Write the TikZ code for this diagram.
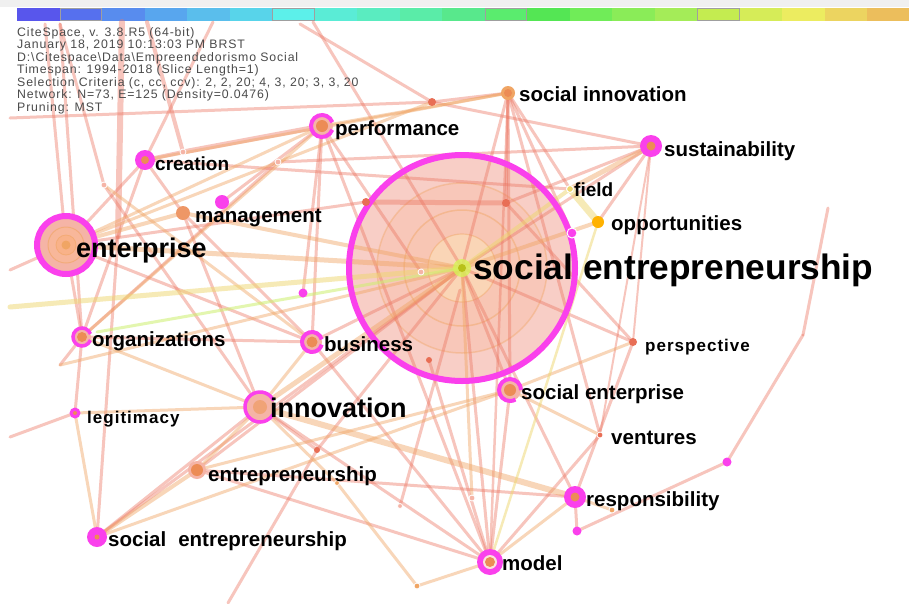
\documentclass[tikz,border=0pt]{standalone}
\usepackage{fontspec}
\setmainfont{Liberation Sans}
\newfontfamily\hdrfont{Liberation Sans}[LetterSpace=7]
\newfontfamily\spfont{Liberation Sans}[LetterSpace=6]
\definecolor{mag}{RGB}{250,64,236}
\definecolor{ered}{RGB}{236,118,98}
\definecolor{eor}{RGB}{240,165,100}
\definecolor{eyl}{RGB}{238,215,110}
\definecolor{egr}{RGB}{205,240,110}
\definecolor{pinkfill}{RGB}{245,180,166}
\definecolor{bigfill}{RGB}{246,186,174}
\definecolor{corange}{RGB}{236,140,85}
\definecolor{dotred}{RGB}{232,110,85}
\definecolor{hdrgray}{RGB}{75,75,75}
\definecolor{barA}{RGB}{88,86,236}\definecolor{barB}{RGB}{86,112,238}\definecolor{barC}{RGB}{88,140,238}
\definecolor{barD}{RGB}{88,166,238}\definecolor{barE}{RGB}{90,190,236}\definecolor{barF}{RGB}{88,212,234}
\definecolor{barG}{RGB}{92,240,234}\definecolor{barH}{RGB}{90,236,214}\definecolor{barI}{RGB}{90,236,192}
\definecolor{barJ}{RGB}{90,236,168}\definecolor{barK}{RGB}{88,232,140}\definecolor{barL}{RGB}{90,236,110}
\definecolor{barM}{RGB}{84,230,84}\definecolor{barN}{RGB}{112,236,88}\definecolor{barO}{RGB}{138,236,88}
\definecolor{barP}{RGB}{164,236,88}\definecolor{barQ}{RGB}{196,236,80}\definecolor{barR}{RGB}{214,236,88}
\definecolor{barS}{RGB}{236,236,96}\definecolor{barT}{RGB}{236,212,96}\definecolor{barU}{RGB}{236,190,92}
\tikzset{
 er/.style={draw=ered,draw opacity=.42,line width=#1,line cap=round}, er/.default=3pt,
 eo/.style={draw=eor,draw opacity=.45,line width=#1,line cap=round}, eo/.default=3pt,
 ey/.style={draw=eyl,draw opacity=.5,line width=#1,line cap=round}, ey/.default=4pt,
 eg/.style={draw=egr,draw opacity=.55,line width=#1,line cap=round}, eg/.default=3pt,
 lbl/.style={anchor=base west,inner sep=0pt,font=\bfseries\fontsize{20.5}{20.5}\selectfont},
 hdr/.style={anchor=base west,inner sep=0pt,text=hdrgray,font=\hdrfont\fontsize{12.3}{12.5}\selectfont},
}
\begin{document}
\begin{tikzpicture}[x=1pt,y=-1pt]
\useasboundingbox (0,0) rectangle (909,603);
\fill[white] (0,0) rectangle (909,603);
% ---------- header colour bar
\fill[gray!12] (0,0) rectangle (909,7);
\foreach \c [count=\i from 0] in {barA,barB,barC,barD,barE,barF,barG,barH,barI,barJ,barK,barL,barM,barN,barO,barP,barQ,barR,barS,barT,barU}
  \fill[fill=\c] (17.4+\i*42.5,8) rectangle ++(42.5,13);
\foreach \i in {1,6,11,16}
  \draw[gray!75,line width=1pt] (17.9+\i*42.5,8.5) rectangle ++(41.5,12);
% ---------- node positions
\coordinate (SE) at (462,268);
\coordinate (ENT) at (66,245);
\coordinate (PERF) at (322,126);
\coordinate (SI) at (508,93);
\coordinate (SUS) at (651,146);
\coordinate (CRE) at (145,160);
\coordinate (MAN) at (183,213);
\coordinate (MANB) at (222,202);
\coordinate (FIE) at (570,189);
\coordinate (OPP) at (598,222);
\coordinate (ORG) at (82,337);
\coordinate (BUS) at (312,342);
\coordinate (PER) at (633,342);
\coordinate (INN) at (260,407);
\coordinate (LEG) at (75,413);
\coordinate (SEN) at (510,390);
\coordinate (VEN) at (600,435);
\coordinate (ENTR) at (197,470);
\coordinate (RES) at (575,497);
\coordinate (SEB) at (97,537);
\coordinate (MOD) at (490,562);
\coordinate (MA) at (303,293);
\coordinate (MB) at (727,462);
\coordinate (MC) at (577,531);
\coordinate (MD) at (572,233);
\coordinate (JA) at (432,102);
\coordinate (JB) at (506,203);
\coordinate (JC) at (366,202);
\coordinate (JD) at (183,152);
\coordinate (JE) at (612,510);
\coordinate (JF) at (417,586);
\coordinate (JG) at (803,335);
\coordinate (JH) at (828,208);
\coordinate (JI) at (429,360);
\coordinate (JK) at (317,450);
\coordinate (JL) at (472,498);
\coordinate (JM) at (400,506);
\coordinate (JN) at (421,272);
\coordinate (JO) at (60,365);
\coordinate (JP) at (118,236);
\coordinate (JQ) at (460,290);
\coordinate (JR) at (278,162);
\coordinate (JS) at (104,185);
\coordinate (JT) at (337,483);
\coordinate (TA) at (45,24);
\coordinate (TB) at (122,22);
\coordinate (TC) at (213,22);
\coordinate (TD) at (147,22);
\coordinate (TE) at (300,24);
\coordinate (TF) at (60,24);
\coordinate (TG) at (313,22);
\coordinate (LA) at (10,118);
\coordinate (LB) at (10,270);
\coordinate (LC) at (10,307);
\coordinate (LD) at (10,437);
\coordinate (LE) at (97,332);
\coordinate (BA) at (228,603);
% ---------- big circle fill
\fill[bigfill,fill opacity=.7] (SE) circle (113pt);
\fill[fill=orange!10!bigfill!85!white,fill opacity=.45] (SE) circle (85pt);
\draw[eor,draw opacity=.4,line width=1.5pt] (SE) circle (85pt);
\fill[fill=orange!15!bigfill!75!white,fill opacity=.45] (SE) circle (58pt);
\draw[eor,draw opacity=.45,line width=1.5pt] (SE) circle (58pt);
\fill[fill=yellow!25!orange!25!white,fill opacity=.5] (SE) circle (34pt);
\draw[eor,draw opacity=.45,line width=1.2pt] (SE) circle (34pt);
% ---------- edges: red
\draw[er=5pt] (PERF) -- (JD);
\draw[er=4pt] (JD) -- (CRE);
\draw[er=4pt] (JD) -- (TD);
\draw[er=6pt] (TB) -- (JP);
\draw[er] (JP) -- (SEB);
\draw[er] (LA) -- (JA);
\draw[er] (JA) -- (TE);
\draw[er] (JA) -- (SI);
\draw[er] (JA) -- (SUS);
\draw[er] (TG) -- (SE);
\draw[er] (SI) -- (JB);
\draw[er] (SI) -- (FIE);
\draw[er] (SI) -- (SEN);
\draw[er] (SI) -- (SE);
\draw[er=2.5pt] (SI) -- (MOD);
\draw[er] (SUS) -- (JB);
\draw[er] (SUS) -- (SE);
\draw[er=2pt] (SUS) -- (PER);
\draw[er=2pt] (SUS) -- (VEN);
\draw[er] (SUS) -- (OPP);
\draw[er] (CRE) -- (TC);
\draw[er] (CRE) -- (ORG);
\draw[er] (CRE) -- (MAN);
\draw[er] (CRE) -- (FIE);
\draw[er] (ENT) -- (CRE);
\draw[er] (ENT) -- (BUS);
\draw[er] (ENT) -- (ORG);
\draw[er] (ENT) -- (JC);
\draw[er] (ENT) -- (LB);
\draw[er] (ENT) -- (TA);
\draw[er] (MANB) -- (PERF);
\draw[er] (MAN) -- (BUS);
\draw[er] (MAN) -- (INN);
\draw[er] (ORG) -- (BUS);
\draw[er] (ORG) -- (LEG);
\draw[er] (ORG) -- (TF);
\draw[er] (ORG) -- (JR);
\draw[er] (BUS) -- (SE);
\draw[er] (BUS) -- (PERF);
\draw[er] (BUS) -- (MOD);
\draw[er] (INN) -- (MOD);
\draw[er] (INN) -- (SEB);
\draw[er] (ENTR) -- (RES);
\draw[er] (ENTR) -- (MOD);
\draw[er] (ENTR) -- (SE);
\draw[er] (MOD) -- (SE);
\draw[er] (MOD) -- (SEN);
\draw[er] (MOD) -- (JI);
\draw[er] (MOD) -- (PERF);
\draw[er] (MOD) -- (VEN);
\draw[er] (RES) -- (MC);
\draw[er] (MC) -- (MB);
\draw[er] (MB) -- (JG);
\draw[er] (JG) -- (JH);
\draw[er] (RES) -- (PER);
\draw[er] (RES) -- (SE);
\draw[er] (PER) -- (SE);
\draw[er] (PER) -- (JB);
\draw[er] (VEN) -- (SI);
\draw[er] (SEN) -- (SE);
\draw[er] (LEG) -- (LD);
\draw[er] (SEB) -- (SE);
\draw[er=5pt] (JC) -- (JB);
\draw[er] (INN) -- (JK);
\draw[er] (JK) -- (SE);
\draw[er] (JK) -- (BA);
\draw[er] (JM) -- (JQ);
\draw[er] (ORG) -- (JO);
\draw[er] (JS) -- (INN);
\draw[er] (JS) -- (TF);
\draw[er] (MA) -- (PERF);
\draw[er] (MD) -- (SI);
\draw[er] (JN) -- (PERF);
\draw[er] (JR) -- (SUS);
% ---------- edges: orange
\draw[eo] (PERF) -- (SI);
\draw[eo] (CRE) -- (SI);
\draw[eo=5pt] (ENT) -- (SE);
\draw[eo=4pt] (ENT) -- (MAN);
\draw[eo] (ENT) -- (PERF);
\draw[eo] (ENT) -- (JA);
\draw[eo=5pt] (SUS) -- (FIE);
\draw[eo=4pt] (OPP) -- (SE);
\draw[eo=4pt] (MAN) -- (SE);
\draw[eo] (ORG) -- (INN);
\draw[eo] (ORG) -- (PERF);
\draw[eo] (BUS) -- (INN);
\draw[eo=5pt] (INN) -- (SE);
\draw[eo=6pt] (INN) -- (RES);
\draw[eo] (INN) -- (ENTR);
\draw[eo] (INN) -- (LEG);
\draw[eo] (LEG) -- (SEB);
\draw[eo=4pt] (SEB) -- (ENTR);
\draw[eo] (ENTR) -- (SEN);
\draw[eo] (MOD) -- (RES);
\draw[eo] (MOD) -- (JF);
\draw[eo] (JF) -- (JT);
\draw[eo] (JT) -- (INN);
\draw[eo] (RES) -- (JE);
\draw[eo] (VEN) -- (SEN);
\draw[eo] (PER) -- (SEN);
\draw[eo] (JL) -- (SE);
\draw[eo] (SEB) -- (SEN);
\draw[eo] (JO) -- (SE);
\draw[eo] (JS) -- (BUS);
% ---------- edges: yellow and green
\draw[ey=7pt] (FIE) -- (OPP);
\draw[ey] (FIE) -- (SE);
\draw[ey=5pt] (LC) -- (SE);
\draw[ey=2.5pt] (MOD) -- (OPP);
\draw[eg] (LE) -- (SE);
% ---------- big node rings
\fill[egr!80!yellow,opacity=.8] (SE) circle (9pt);
\fill[yellow!60!green!70!orange] (SE) circle (4pt);
\draw[mag,line width=6pt] (SE) circle (113pt);
% ---------- enterprise
\fill[pinkfill] (ENT) circle (29pt);
\fill[orange!18!pinkfill!85!white] (ENT) circle (18pt);
\draw[eor,line width=1pt,draw opacity=.6] (ENT) circle (18pt);
\fill[orange!30!pinkfill!85!white] (ENT) circle (10pt);
\draw[eor,line width=.8pt,draw opacity=.6] (ENT) circle (10pt);
\fill[eor] (ENT) circle (4.5pt);
\draw[mag,line width=6pt] (ENT) circle (29pt);
% ---------- ringed nodes
\fill[pinkfill] (PERF) circle (11pt); \fill[corange] (PERF) circle (6pt);
\draw[mag,line width=4pt] ([shift={(20:11pt)}]PERF) arc[start angle=20,end angle=340,radius=11pt];
\fill[pinkfill] (INN) circle (15pt); \fill[corange!80] (INN) circle (7pt);
\draw[mag,line width=3.5pt] ([shift={(25:15pt)}]INN) arc[start angle=25,end angle=330,radius=15pt];
\fill[pinkfill] (BUS) circle (10pt); \fill[corange] (BUS) circle (5.5pt);
\draw[mag,line width=4pt] ([shift={(15:10pt)}]BUS) arc[start angle=15,end angle=345,radius=10pt];
\fill[pinkfill] (ORG) circle (9pt); \fill[corange] (ORG) circle (5pt);
\draw[mag,line width=3.5pt] ([shift={(20:9pt)}]ORG) arc[start angle=20,end angle=340,radius=9pt];
\fill[pinkfill] (SEN) circle (11pt); \fill[corange] (SEN) circle (6pt);
\draw[mag,line width=4pt] ([shift={(0:11pt)}]SEN) arc[start angle=0,end angle=300,radius=11pt];
% ---------- magenta nodes
\fill[mag] (CRE) circle (10pt); \fill[corange] (CRE) circle (4pt);
\fill[mag] (SUS) circle (11pt); \fill[corange] (SUS) circle (4.5pt);
\fill[mag] (RES) circle (11pt); \fill[corange] (RES) circle (4.5pt);
\fill[mag] (MOD) circle (13pt); \fill[white!60!pinkfill] (MOD) circle (7pt); \fill[corange] (MOD) circle (5pt);
\fill[mag] (SEB) circle (10pt); \fill[corange] (SEB) circle (2.5pt);
\fill[mag] (LEG) circle (5.5pt); \fill[corange] (LEG) circle (2pt);
\fill[mag] (MANB) circle (7pt);
\fill[mag] (MA) circle (4.5pt);
\fill[mag] (MB) circle (4.5pt);
\fill[mag] (MC) circle (4.5pt);
\draw[white,line width=1pt,fill=mag] (MD) circle (5pt);
% ---------- orange nodes
\fill[corange!90] (MAN) circle (7pt);
\fill[eor] (SI) circle (7pt); \fill[corange] (SI) circle (4pt);
\fill[orange!60!yellow] (OPP) circle (6pt);
\draw[white,line width=1pt,fill=eyl] (FIE) circle (3.5pt);
\fill[dotred] (PER) circle (4pt);
\draw[white,line width=.8pt,fill=dotred] (VEN) circle (3pt);
\fill[pinkfill] (ENTR) circle (9pt); \fill[corange] (ENTR) circle (6pt);
\fill[dotred] (JA) circle (4pt);
\fill[dotred] (JB) circle (4pt);
\fill[dotred] (JC) circle (4pt);
\fill[dotred] (JI) circle (3pt);
\fill[dotred] (JK) circle (3pt);
\draw[white,line width=.8pt,fill=pinkfill] (JD) circle (3pt);
\draw[white,line width=.8pt,fill=eor] (JE) circle (3pt);
\draw[white,line width=.8pt,fill=eor] (JF) circle (3pt);
\draw[white,line width=.8pt,fill=pinkfill] (JL) circle (3pt);
\draw[white,line width=.8pt,fill=pinkfill] (JN) circle (3pt);
\draw[white,line width=.8pt,fill=pinkfill] (JR) circle (3pt);
\draw[white,line width=.8pt,fill=pinkfill] (JS) circle (3pt);
\draw[white,line width=.8pt,fill=eor] (JT) circle (2.5pt);
\draw[white,line width=.8pt,fill=pinkfill] (JM) circle (2.5pt);
% ---------- header text
\node[hdr] (h1) at (17,36) {CiteSpace, v. 3.8.R5 (64-bit)};
\node[hdr] (h2) at (17,48.5) {January 18, 2019 10:13:03 PM BRST};
\node[hdr] (h3) at (17,61) {D:\textbackslash Citespace\textbackslash Data\textbackslash Empreendedorismo Social};
\node[hdr] (h4) at (17,73.5) {Timespan: 1994-2018 (Slice Length=1)};
\node[hdr] (h5) at (17,86) {Selection Criteria (c, cc, ccv): 2, 2, 20; 4, 3, 20; 3, 3, 20};
\node[hdr] (h6) at (17,98.5) {Network: N=73, E=125 (Density=0.0476)};
\node[hdr] (h7) at (17,111) {Pruning: MST};
% ---------- labels
\node[lbl,font=\bfseries\fontsize{35.3}{35.3}\selectfont] (lSE) at (473,279) {social entrepreneurship};
\node[lbl,font=\bfseries\fontsize{27}{27}\selectfont] (lENT) at (76,257) {enterprise};
\node[lbl,font=\bfseries\fontsize{27}{27}\selectfont] (lINN) at (270,417) {innovation};
\node[lbl] (lSI) at (519,101) {social innovation};
\node[lbl] (lPERF) at (335,135) {performance};
\node[lbl] (lSUS) at (664,156) {sustainability};
\node[lbl,font=\bfseries\fontsize{19}{19}\selectfont] (lCRE) at (155,170) {creation};
\node[lbl,font=\bfseries\fontsize{19}{19}\selectfont] (lFIE) at (574,196) {field};
\node[lbl] (lMAN) at (195,222) {management};
\node[lbl] (lOPP) at (611,230) {opportunities};
\node[lbl] (lORG) at (92,346) {organizations};
\node[lbl] (lBUS) at (324,351) {business};
\node[lbl,font=\spfont\bfseries\fontsize{17}{17}\selectfont] (lPER) at (645,351) {perspective};
\node[lbl] (lSEN) at (521,399) {social enterprise};
\node[lbl,font=\spfont\bfseries\fontsize{17}{17}\selectfont] (lLEG) at (87,423) {legitimacy};
\node[lbl] (lVEN) at (611,444) {ventures};
\node[lbl] (lENTR) at (208,481) {entrepreneurship};
\node[lbl] (lRES) at (586,506) {responsibility};
\node[lbl] (lSEB) at (108,546) {social\hspace{12pt}entrepreneurship};
\node[lbl] (lMOD) at (502,570) {model};
\end{tikzpicture}
\end{document}
